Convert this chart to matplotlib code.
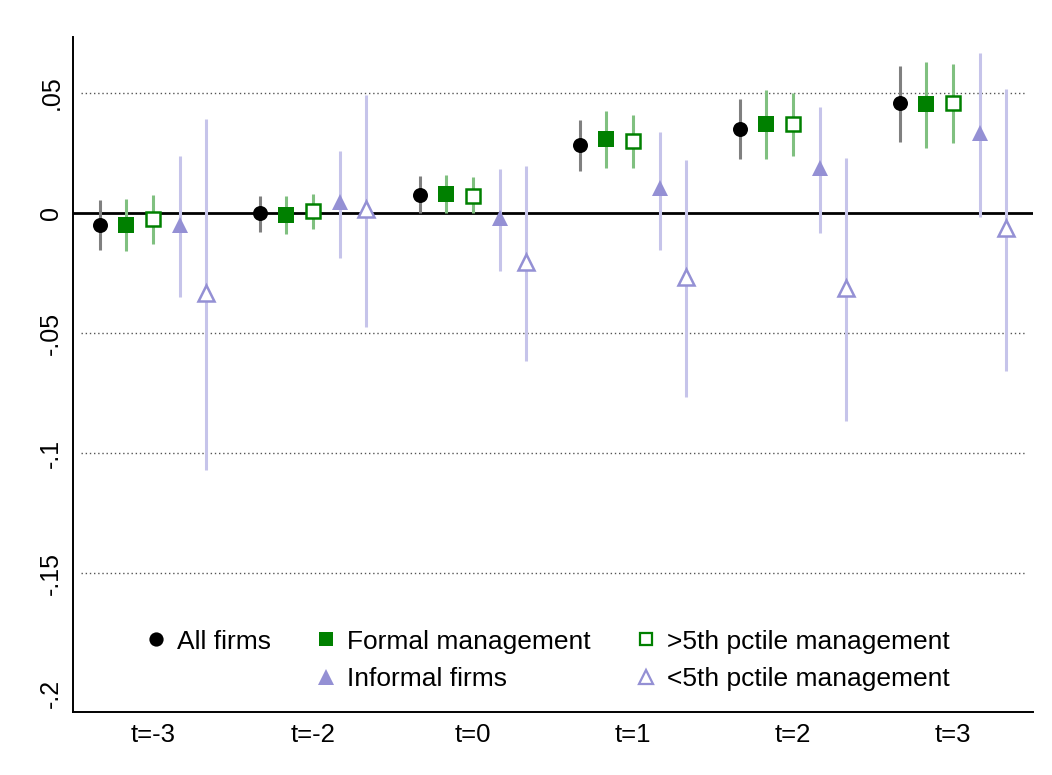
import matplotlib
matplotlib.use("Agg")
import matplotlib.pyplot as plt
from matplotlib.lines import Line2D
import numpy as np

plt.rcParams['font.family'] = ['Liberation Sans', 'DejaVu Sans']

periods = ["t=-3", "t=-2", "t=0", "t=1", "t=2", "t=3"]

all_est = [-0.005, 0.000, 0.0076, 0.0282, 0.0351, 0.0456]
all_lo = [-0.0154, -0.0078, -0.0001, 0.0175, 0.0225, 0.0296]
all_hi = [0.0054, 0.0072, 0.0153, 0.0388, 0.0476, 0.0612]

formal_est = [-0.005, -0.001, 0.0078, 0.0307, 0.0369, 0.0454]
formal_lo = [-0.016, -0.0088, 0.0000, 0.0189, 0.0226, 0.0272]
formal_hi = [0.0057, 0.0070, 0.0158, 0.0425, 0.0511, 0.0629]

gt5_est = [-0.0026, 0.0008, 0.0072, 0.0300, 0.0371, 0.0456]
gt5_lo = [-0.013, -0.0068, 0.0000, 0.0189, 0.0239, 0.0290]
gt5_hi = [0.0076, 0.0078, 0.0149, 0.0408, 0.0500, 0.0620]

informal_est = [-0.005, 0.0046, -0.0022, 0.0103, 0.0186, 0.0332]
informal_lo = [-0.0349, -0.0186, -0.0242, -0.0154, -0.0082, -0.0015]
informal_hi = [0.0238, 0.0258, 0.0182, 0.0339, 0.0442, 0.0668]

lt5_est = [-0.0335, 0.0017, -0.0203, -0.0265, -0.0314, -0.0064]
lt5_lo = [-0.107, -0.0475, -0.0615, -0.0765, -0.0865, -0.0657]
lt5_hi = [0.039, 0.049, 0.0197, 0.0221, 0.023, 0.0517]

fig = plt.figure(figsize=(10.52, 7.75), dpi=100)
ax = fig.add_axes([73/1052, 1-712/775, 960/1052, 675/775])

x = np.arange(len(periods))
green = '#008000'
purple = '#9490d4'

series = [
    ("All firms", all_est, all_lo, all_hi, -1/3, 'o', 'black', 'black', '#808080', 10.8),
    ("Formal management", formal_est, formal_lo, formal_hi, -1/6, 's', green, green, '#80c080', 11),
    (">5th pctile management", gt5_est, gt5_lo, gt5_hi, 0.0, 's', 'white', green, '#80c080', 9.5),
    ("Informal firms", informal_est, informal_lo, informal_hi, 1/6, '^', purple, purple, '#c6c4ea', 12),
    ("<5th pctile management", lt5_est, lt5_lo, lt5_hi, 1/3, '^', 'white', purple, '#c6c4ea', 11),
]

# grid and zero line
for g in [0.05, -0.05, -0.1, -0.15]:
    ax.axhline(g, xmin=0.008, xmax=0.992, color='#555555', lw=1.0, ls=(0, (1, 2)), zorder=0)
ax.axhline(0, color='black', lw=2, zorder=1)

handles = {}
for name, est, lo, hi, off, mk, fc, ec, cic, ms in series:
    xs = x + off
    ax.vlines(xs, lo, hi, color=cic, lw=2.2, zorder=2)
    mew = 1.8 if fc == 'white' else 0
    ax.plot(xs, est, ls='none', marker=mk, ms=ms, mfc=fc, mec=ec, mew=mew, zorder=3)
    handles[name] = Line2D([], [], ls='none', marker=mk, ms=ms * 0.95, mfc=fc, mec=ec, mew=mew * 0.9)

blank = Line2D([], [], ls='none', marker=None)
order = [handles["All firms"], blank, handles["Formal management"], handles["Informal firms"],
         handles[">5th pctile management"], handles["<5th pctile management"]]
labels = ["All firms", "", "Formal management", "Informal firms",
          ">5th pctile management", "<5th pctile management"]
ax.legend(order, labels, ncol=3, frameon=False, loc='lower center',
          bbox_to_anchor=(0.493, 0.0), fontsize=19, handletextpad=0.3,
          columnspacing=1.6, handlelength=1.0, labelspacing=0.5, borderaxespad=0.4)

ax.set_xlim(-0.5, 5.5)
ax.set_ylim(-0.2079, 0.0733)
ax.set_xticks(x)
ax.set_xticklabels(periods, fontsize=18.5)
ax.set_yticks([0.05, 0, -0.05, -0.1, -0.15, -0.2])
ax.set_yticklabels([".05", "0", "-.05", "-.1", "-.15", "-.2"], fontsize=18,
                   rotation=90, va='center')
ax.tick_params(length=0)
ax.tick_params(axis='y', pad=7)
ax.tick_params(axis='x', pad=8)
for s in ['top', 'right']:
    ax.spines[s].set_visible(False)
for s in ['left', 'bottom']:
    ax.spines[s].set_linewidth(1.4)

fig.savefig("out.png", dpi=100)
